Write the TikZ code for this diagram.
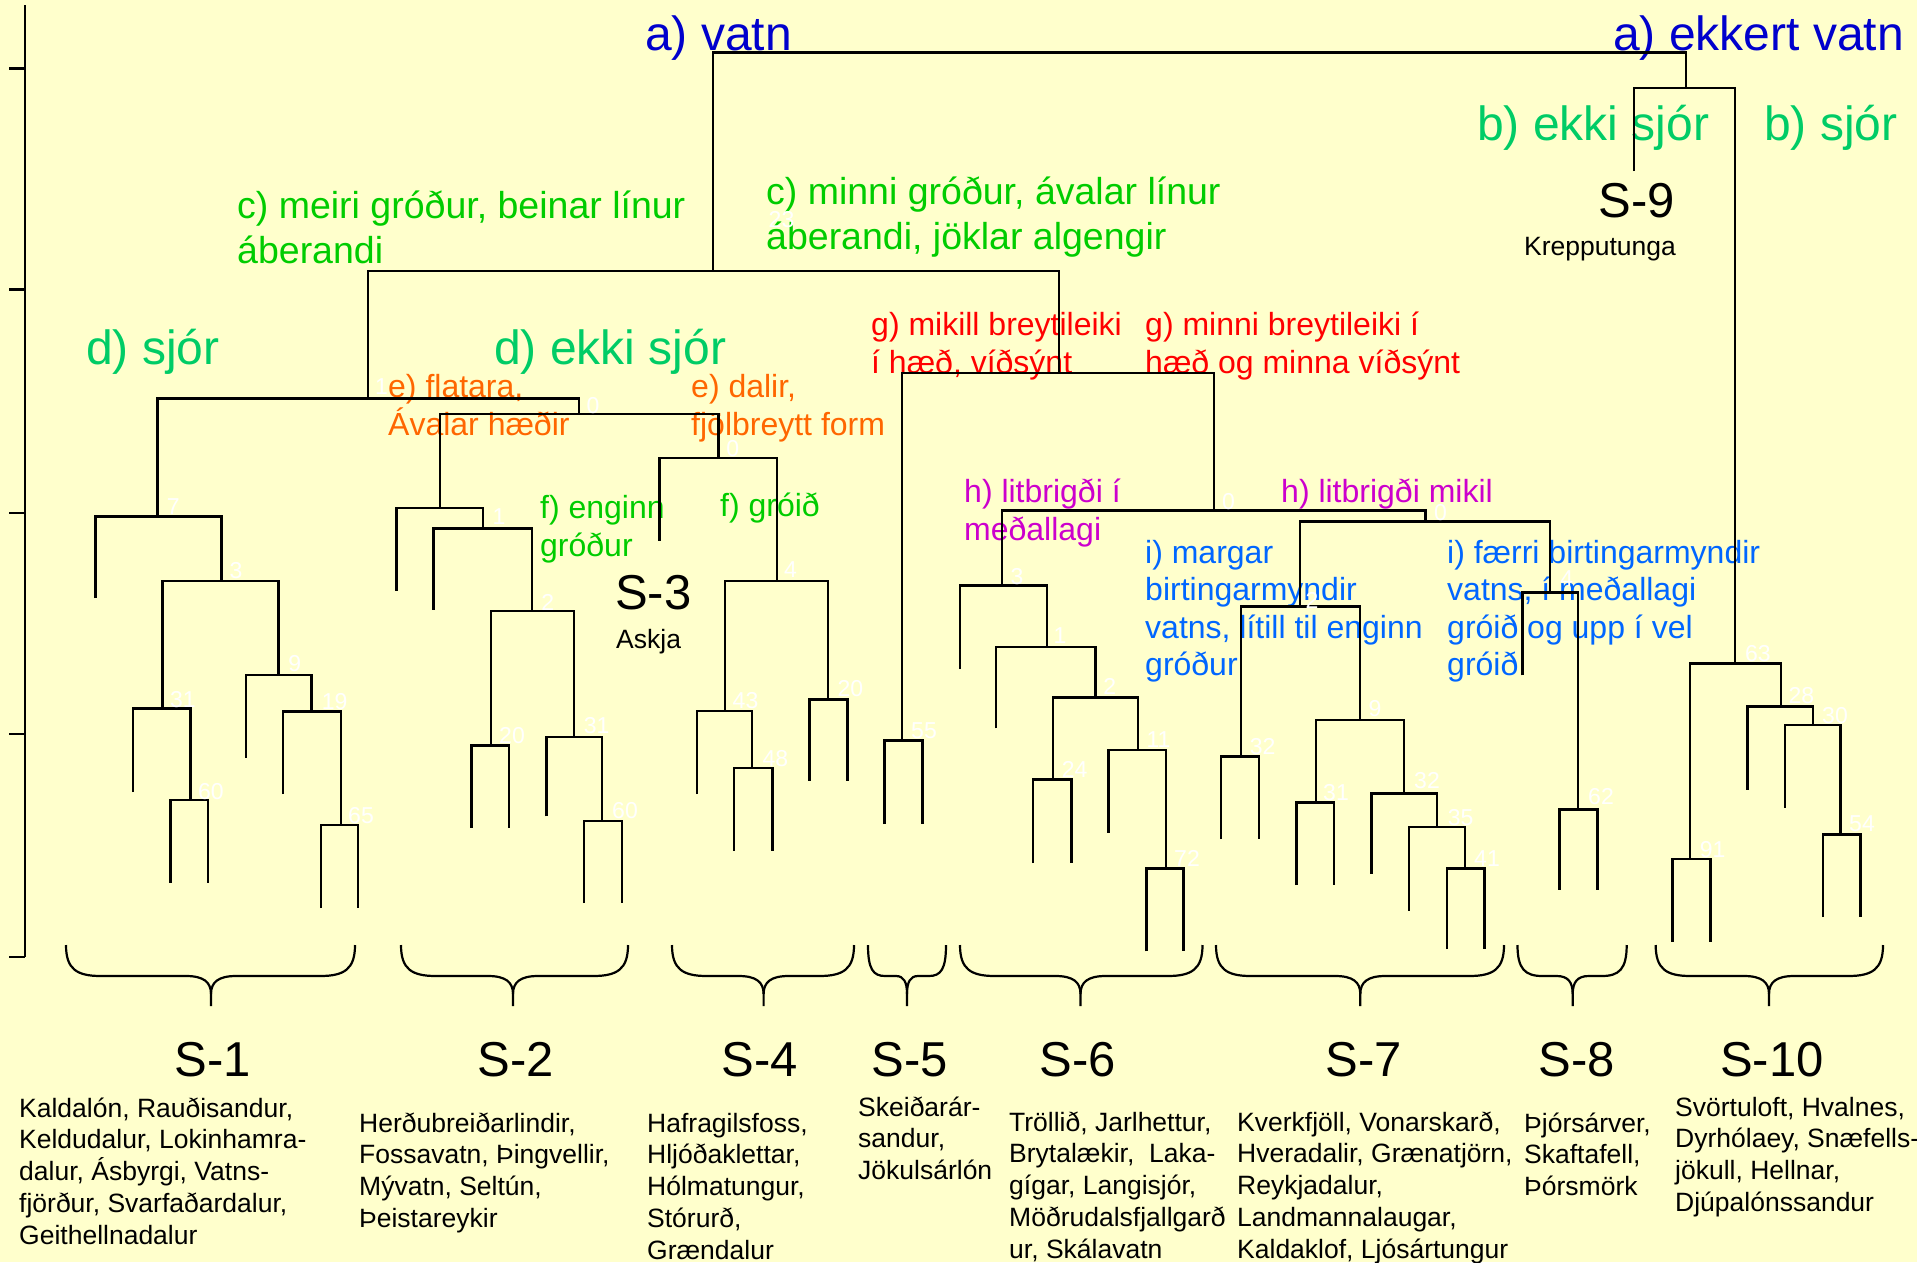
\documentclass[tikz,border=0pt]{standalone}
\usepackage{fontspec}
\setmainfont{Liberation Sans}
\definecolor{bg}{HTML}{FFFFCC}
\definecolor{blueA}{HTML}{0000CC}
\definecolor{greenD}{HTML}{00CC66}
\definecolor{greenC}{HTML}{00CC00}
\definecolor{orangeE}{HTML}{FF6600}
\definecolor{redG}{HTML}{FF0000}
\definecolor{magH}{HTML}{CC00CC}
\definecolor{blueI}{HTML}{0066FF}
\tikzset{
  txt/.style={inner sep=0pt, anchor=base west, align=left},
  fA/.style={font=\fontsize{48}{56}\selectfont},
  fC/.style={font=\fontsize{37.5}{45}\selectfont},
  fE/.style={font=\fontsize{32}{38.2}\selectfont},
  fS/.style={font=\fontsize{49}{58}\selectfont, inner sep=0pt},
  fT/.style={font=\fontsize{26.5}{31.8}\selectfont, inner sep=0pt},
  lab/.style={font=\fontsize{23}{27}\selectfont, text=white, inner sep=0pt},
  dend/.style={line width=2.4pt, draw=black},
  brc/.style={line width=2.2pt, draw=black},
}
% merge: xa, ya(end), xb, yb(end), ybar
\newcommand\mg[5]{\draw[dend] (#1,#2) |- (#3,#5) -- (#3,#4);}
% brace: x0, xm, x1, corner, tip
\newcommand\mybrace[5]{\draw[brc] (#1,945) .. controls (#1,969) and (#1+#4*0.3,976) .. (#1+#4,976) -- (#2-#5,976) .. controls (#2-#5*0.3,976) and (#2,982) .. (#2,994) -- (#2,1006);
\draw[brc] (#3,945) .. controls (#3,969) and (#3-#4*0.3,976) .. (#3-#4,976) -- (#2+#5,976) .. controls (#2+#5*0.3,976) and (#2,982) .. (#2,994);}
\begin{document}
\begin{tikzpicture}[x=1pt,y=-1pt]
\fill[bg] (0,0) rectangle (1917,1262);
\useasboundingbox (0,0) rectangle (1917,1262);

% ---------- texts (multi-line nodes: anchor on last baseline) ----------
\node[txt,fA,text=blueA] (av) at (645,50) {a) vatn};
\node[txt,fA,text=blueA] (aev) at (1613,50) {a) ekkert vatn};
\node[txt,fA,text=greenD] (bes) at (1477,140) {b) ekki sjór};
\node[txt,fA,text=greenD] (bs) at (1764,140) {b) sjór};
\node[fS,anchor=base] (s9) at (1637,217) {S-9};
\node[fT,anchor=base] (kr) at (1600,255) {Krepputunga};
\node[txt,fC,text=greenC] (cm) at (237,263) {c) meiri gróður, beinar línur\\áberandi};
\node[txt,fC,text=greenC] (cmi) at (766,249) {c) minni gróður, ávalar línur\\áberandi, jöklar algengir};
\node[txt,fA,text=greenD] (ds) at (86,364) {d) sjór};
\node[txt,fA,text=greenD] (des) at (494,364) {d) ekki sjór};
\node[txt,fE,text=orangeE] (ef) at (388,435.2) {e) flatara,\\Ávalar hæðir};
\node[txt,fE,text=orangeE] (ed) at (691,435.2) {e) dalir,\\fjölbreytt form};
\node[txt,fE,text=redG] (gm) at (871,373.2) {g) mikill breytileiki\\í hæð, víðsýnt};
\node[txt,fE,text=redG] (gmi) at (1145,373.2) {g) minni breytileiki í\\hæð og minna víðsýnt};
\node[txt,fE,text=greenC] (fe) at (540,556.2) {f) enginn\\gróður};
\node[txt,fE,text=greenC] (fg) at (720,516) {f) gróið};
\node[fS,anchor=base west] (s3) at (615,609) {S-3};
\node[fT,anchor=base west] (ask) at (616,648) {Askja};
\node[txt,fE,text=magH] (hl) at (964,540.2) {h) litbrigði í\\meðallagi};
\node[txt,fE,text=magH] (hm) at (1281,502) {h) litbrigði mikil};
\node[txt,fE,text=blueI,font=\fontsize{32}{37.5}\selectfont] (im) at (1145,675.5) {i) margar\\birtingarmyndir\\vatns, lítill til enginn\\gróður};
\node[txt,fE,text=blueI,font=\fontsize{32}{37.5}\selectfont] (if) at (1447,675.5) {i) færri birtingarmyndir\\vatns, í meðallagi\\gróið og upp í vel\\gróið};

% bottom labels
\node[fS,anchor=base] (S1) at (213,1076) {S-1};
\node[fS,anchor=base] (S2) at (516,1076) {S-2};
\node[fS,anchor=base] (S4) at (760,1076) {S-4};
\node[fS,anchor=base] (S5) at (910,1076) {S-5};
\node[fS,anchor=base] (S6) at (1078,1076) {S-6};
\node[fS,anchor=base] (S7) at (1364,1076) {S-7};
\node[fS,anchor=base] (S8) at (1577,1076) {S-8};
\node[fS,anchor=base] (S10) at (1772,1076) {S-10};
\node[txt,fT] (d1) at (19,1244.2) {Kaldalón, Rauðisandur,\\Keldudalur, Lokinhamra-\\dalur, Ásbyrgi, Vatns-\\fjörður, Svarfaðardalur,\\Geithellnadalur};
\node[txt,fT] (d2) at (359,1227.4) {Herðubreiðarlindir,\\Fossavatn, Þingvellir,\\Mývatn, Seltún,\\Þeistareykir};
\node[txt,fT] (d4) at (647,1259.2) {Hafragilsfoss,\\Hljóðaklettar,\\Hólmatungur,\\Stórurð,\\Grændalur};
\node[txt,fT] (d5) at (858,1179.6) {Skeiðarár-\\sandur,\\Jökulsárlón};
\node[txt,fT] (d6) at (1009,1258.2) {Tröllið, Jarlhettur,\\Brytalækir,~ Laka-\\gígar, Langisjór,\\Möðrudalsfjallgarð\\ur, Skálavatn};
\node[txt,fT] (d7) at (1237,1258.2) {Kverkfjöll, Vonarskarð,\\Hveradalir, Grænatjörn,\\Reykjadalur,\\Landmannalaugar,\\Kaldaklof, Ljósártungur};
\node[txt,fT] (d8) at (1524,1195.6) {Þjórsárver,\\Skaftafell,\\Þórsmörk};
\node[txt,fT] (d10) at (1675,1211.4) {Svörtuloft, Hvalnes,\\Dyrhólaey, Snæfells-\\jökull, Hellnar,\\Djúpalónssandur};

% ---------- axis ----------
\draw[dend] (25,5) -- (25,957);
\foreach \yy in {68.3,289.3,513,734,957} \draw[dend] (9,\yy) -- (25,\yy);

% ---------- dendrogram ----------
\mg{713}{271}{1686}{88}{52.3}
\mg{1634}{171}{1735}{663.6}{88}
\mg{368}{398.4}{1059}{373}{271}
\mg{157.5}{516.6}{579}{413.7}{398.4}
\mg{440}{508.2}{718.3}{457.7}{413.7}
% S-1
\mg{95.4}{598}{221.4}{581}{516.6}
\mg{162.5}{708.4}{278.6}{674.7}{581}
\mg{132.7}{792}{190.3}{800}{708.4}
\mg{170.4}{882.5}{208.1}{882.5}{800}
\mg{245.9}{757.7}{311.4}{711.4}{674.7}
\mg{283.2}{794}{340.8}{824.7}{711.4}
\mg{320.9}{908}{358.2}{908}{824.7}
% S-2
\mg{396.4}{590.5}{483}{528.5}{508.2}
\mg{433.3}{609.6}{532}{610.8}{528.5}
\mg{490.9}{745.5}{574.2}{736.7}{610.8}
\mg{471.4}{827.8}{509.1}{827.8}{745.5}
\mg{546.4}{816.3}{602}{820.9}{736.7}
\mg{583.7}{903.2}{621.9}{903.2}{820.9}
% S-3 / S-4
\mg{659.4}{540.7}{777.2}{581}{457.7}
\mg{725}{711}{827.7}{699.6}{581}
\mg{696.9}{794}{752.2}{768}{711}
\mg{733.9}{850.7}{772.3}{850.7}{768}
\mg{809.4}{780.7}{847.3}{780.7}{699.6}
% g level, S-5
\mg{902.2}{740.5}{1213.8}{510.5}{373}
\mg{884.4}{824}{922.3}{824}{740.5}
% h level, S-6
\mg{1001.8}{585.5}{1425.4}{521.6}{510.5}
\mg{959.8}{669}{1046.9}{646.7}{585.5}
\mg{996}{728.3}{1095.5}{697.3}{646.7}
\mg{1052.7}{779.5}{1138}{749.7}{697.3}
\mg{1033}{863}{1071.4}{863}{779.5}
\mg{1108.5}{832.7}{1166}{868.3}{749.7}
\mg{1146.4}{951.4}{1183.5}{951.4}{868.3}
% i level, S-7
\mg{1300.1}{606.6}{1549.8}{592.4}{521.6}
\mg{1241.2}{756.6}{1360}{719.8}{606.6}
\mg{1221}{839.2}{1259}{839.2}{756.6}
\mg{1316.1}{802.5}{1403.9}{793.3}{719.8}
\mg{1296.5}{885.2}{1334}{885.2}{802.5}
\mg{1371.5}{873.7}{1436.9}{827}{793.3}
\mg{1409}{910.8}{1465.2}{868.3}{827}
\mg{1446.9}{949}{1484.4}{949}{868.3}
% S-8
\mg{1522.4}{675.4}{1577.7}{809.4}{592.4}
\mg{1559.4}{889.8}{1597.3}{889.8}{809.4}
% S-10
\mg{1690.2}{859.1}{1780.7}{706.4}{663.6}
\mg{1672.3}{941.8}{1710.3}{941.8}{859.1}
\mg{1747.3}{789.5}{1813.2}{725.2}{706.4}
\mg{1784.8}{807.5}{1840.6}{834.3}{725.2}
\mg{1822.8}{917}{1860.3}{917}{834.3}

% ---------- braces ----------
\mybrace{66}{211}{355}{35}{25}
\mybrace{401}{513}{628}{35}{25}
\mybrace{672}{763.6}{854}{35}{25}
\mybrace{868}{907}{946}{17}{11}
\mybrace{960}{1080.5}{1202.5}{35}{25}
\mybrace{1216}{1360.3}{1504}{35}{25}
\mybrace{1517.5}{1572.7}{1626.7}{25}{16}
\mybrace{1655.7}{1769}{1883}{35}{25}

% ---------- white cluster numbers ----------
\node[lab] (w1) at (381.6,386.7) {1};
\node[lab] (w2) at (593,406) {0};
\node[lab] (w3) at (781.5,220) {23};
\node[lab] (w4) at (173.3,506.3) {7};
\node[lab] (w5) at (236,571) {3};
\node[lab] (w6) at (294.8,664) {9};
\node[lab] (w7) at (183,699.6) {31};
\node[lab] (w8) at (334.6,701.5) {19};
\node[lab] (w9) at (211,791.4) {60};
\node[lab] (w10) at (361,815.5) {65};
\node[lab] (w11) at (499,516.6) {1};
\node[lab] (w12) at (547.7,602) {2};
\node[lab] (w13) at (512,736) {20};
\node[lab] (w14) at (596.6,726) {31};
\node[lab] (w15) at (625,810.5) {60};
\node[lab] (w16) at (732.8,449) {0};
\node[lab] (w17) at (790.6,570) {4};
\node[lab] (w18) at (745.5,700.7) {43};
\node[lab] (w19) at (775.4,759) {48};
\node[lab] (w20) at (850.4,689) {20};
\node[lab] (w21) at (924,731) {55};
\node[lab] (w22) at (1228.6,501.7) {0};
\node[lab] (w23) at (1017,577) {3};
\node[lab] (w24) at (1060,635.6) {1};
\node[lab] (w25) at (1109.8,686) {2};
\node[lab] (w26) at (1074.6,769.6) {24};
\node[lab] (w27) at (1158.5,739.7) {11};
\node[lab] (w28) at (1187,858.4) {72};
\node[lab] (w29) at (1262.6,746.6) {32};
\node[lab] (w30) at (1440.5,513) {0};
\node[lab] (w31) at (1566.7,579) {4};
\node[lab] (w32) at (1312,600) {2};
\node[lab] (w33) at (1375,708.4) {9};
\node[lab] (w34) at (1336,792.5) {31};
\node[lab] (w35) at (1427,781) {32};
\node[lab] (w36) at (1460.6,817.4) {35};
\node[lab] (w37) at (1487,858.4) {41};
\node[lab] (w38) at (1601,797) {62};
\node[lab] (w39) at (1757.8,653.6) {63};
\node[lab] (w40) at (1801.3,695.7) {28};
\node[lab] (w41) at (1835,716) {30};
\node[lab] (w42) at (1862,824) {54};
\node[lab] (w43) at (1712.6,850) {91};
\end{tikzpicture}
\end{document}
